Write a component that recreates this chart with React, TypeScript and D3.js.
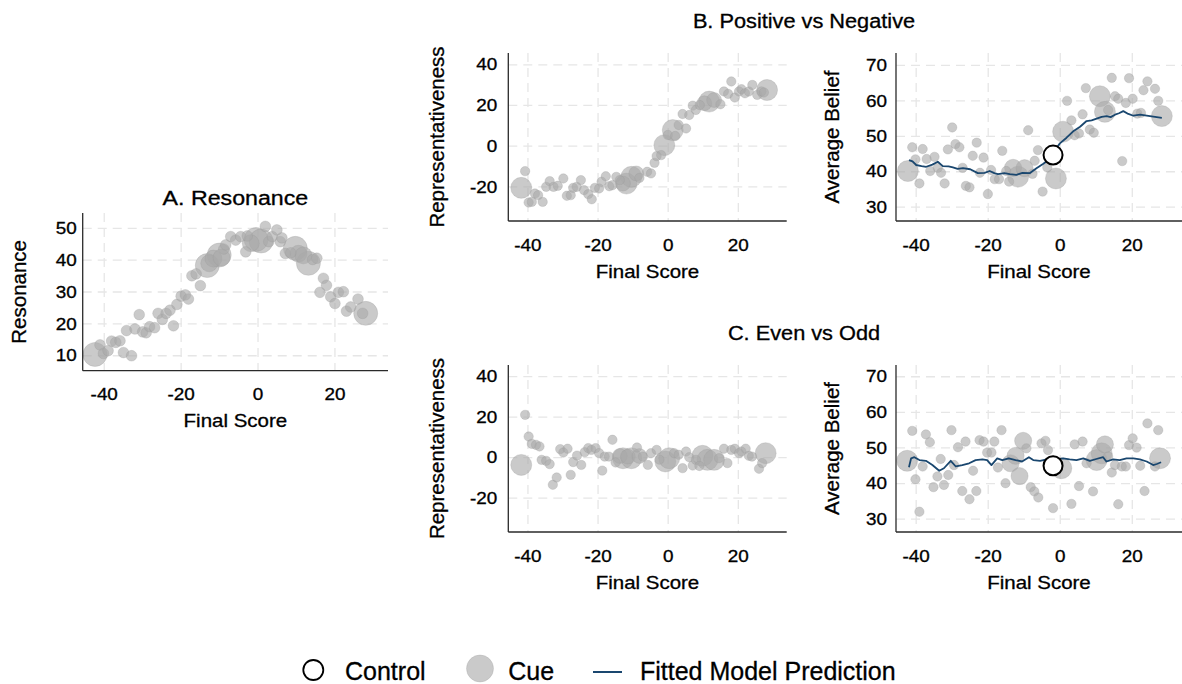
import React from 'react';
import * as d3 from 'd3';

// ---------- DATA ----------
const xTicks = [-40, -20, 0, 20];
const resonanceTicks = [10, 20, 30, 40, 50];
const repTicks = [-20, 0, 20, 40];
const beliefTicks = [30, 40, 50, 60, 70];

// [final score, value, weight]
const resonance: [number, number, number][] = [
  [-42.4, 10.4, 30], [-41.1, 13.4, 6], [-40.2, 10.7, 6], [-39, 11.6, 6], [-38.1, 14.6, 6],
  [-37, 14.2, 6], [-35.9, 14.7, 6], [-35, 11, 6], [-34.2, 17.9, 6], [-32.9, 10, 6],
  [-32, 18.4, 6], [-30.9, 22.9, 6], [-30, 17.5, 6], [-29.1, 17.2, 6], [-28.2, 19.1, 6],
  [-26.9, 18.8, 6], [-26, 23.3, 6], [-24.9, 21.4, 6], [-23.9, 23.3, 6], [-22.9, 24.3, 6],
  [-22, 19.4, 6], [-21.1, 26.1, 6], [-20, 28.7, 6], [-18.9, 29.1, 6], [-18.1, 27.8, 6],
  [-17.2, 35.1, 6], [-16.1, 35.7, 6], [-15, 32, 6], [-13.2, 38.3, 30], [-12.7, 39, 15],
  [-11.6, 40.5, 15], [-10.1, 41.6, 30], [-9.5, 40.8, 15], [-8.9, 43.5, 6], [-8.4, 44.8, 6],
  [-7.1, 47.4, 6], [-5.8, 46.3, 6], [-4.5, 47.4, 6], [-3.2, 42.6, 6], [-2.8, 47.6, 6],
  [-1.9, 45.3, 15], [-0.5, 46.5, 30], [0.8, 46, 30], [1.9, 50.6, 6], [2.8, 45.8, 6],
  [3.7, 47.4, 6], [4.9, 49.5, 6], [5.8, 45.8, 6], [6.2, 47, 6], [7.1, 42.1, 6],
  [8.5, 42.3, 6], [9.7, 43.7, 30], [10.5, 42, 15], [11.8, 41.5, 15], [13.1, 39, 30],
  [14.2, 40.2, 6], [15.3, 40.6, 6], [16.1, 29.9, 6], [17, 34.3, 6], [17.8, 32.1, 6],
  [18.9, 28.5, 6], [20, 26.4, 6], [20.9, 29.9, 6], [22.2, 30.1, 6], [23, 24, 6],
  [24.1, 25.3, 6], [26, 27.8, 6], [27.2, 23.3, 6], [28, 23.3, 30],
];

const posNegRep: [number, number, number][] = [
  [-41.9, -20.5, 30], [-40.8, -12.3, 6], [-39.8, -27.7, 6], [-38.9, -27.4, 6], [-38, -23.3, 6],
  [-37.1, -24.1, 6], [-35.8, -27.4, 6], [-34.8, -20, 6], [-33.8, -17.2, 6], [-32.7, -20, 6],
  [-31.5, -19.5, 6], [-29.9, -15.9, 6], [-28.9, -24.4, 6], [-27.8, -24.1, 6], [-27.1, -20.5, 6],
  [-26.1, -20, 6], [-24.9, -16.7, 6], [-24, -21.6, 6], [-22.8, -23.6, 6], [-21.8, -26.1, 6],
  [-20.9, -20.5, 6], [-19.7, -20.8, 6], [-19, -17.5, 6], [-17.8, -14.8, 6], [-16.8, -19.7, 6],
  [-15.9, -19.2, 6], [-14.8, -15.1, 6], [-13.8, -16.7, 6], [-12.9, -18.4, 15], [-11.9, -18.4, 30],
  [-10.5, -15.1, 30], [-9.1, -13.4, 15], [-8.2, -15.6, 6], [-6, -12.6, 6], [-4.9, -13.4, 6],
  [-3.9, -8.2, 6], [-3.3, -4.9, 6], [-2, -4.4, 6], [-1.1, 0.5, 30], [-0.1, 5.5, 6],
  [1.3, 7.9, 30], [2, 5, 6], [3, 10.4, 6], [4.1, 15.8, 6], [5.1, 8.7, 6],
  [6, 15.3, 6], [7, 19.9, 6], [7.9, 17.8, 6], [9, 20.2, 6], [10.3, 21.1, 15],
  [11.7, 21.9, 30], [13.1, 22.7, 15], [14.9, 20.6, 6], [15.9, 26.9, 6], [17.1, 25.7, 6],
  [18, 31.8, 6], [19, 23.9, 6], [20.2, 26.9, 6], [20.9, 28, 6], [21.9, 26, 6],
  [23, 26.9, 6], [24, 30.1, 6], [25.4, 25.2, 6], [26.6, 26.9, 6], [27.3, 26.4, 6],
  [28.2, 27.6, 30],
];

const posNegBelief: [number, number, number][] = [
  [-42.3, 40.2, 30], [-41.1, 46.9, 6], [-40.2, 43.5, 6], [-39.1, 36.7, 6], [-38.2, 46.4, 6],
  [-37.1, 43.6, 6], [-36.1, 40.2, 6], [-34.9, 44.2, 6], [-34, 41.1, 6], [-33.1, 39.7, 6],
  [-32.1, 36.7, 6], [-31.2, 46.3, 6], [-30, 52.5, 6], [-29.1, 47.8, 6], [-28, 46.9, 6],
  [-27.1, 41.1, 6], [-26.2, 36, 6], [-25.2, 35.6, 6], [-24.3, 44.5, 6], [-23.2, 48.2, 6],
  [-22.3, 39.7, 6], [-21.3, 44, 6], [-20.1, 33.7, 6], [-19.2, 40.5, 6], [-18.2, 37.9, 6],
  [-17, 37.9, 6], [-16.1, 45.9, 6], [-15, 40.2, 6], [-14.2, 37.2, 6], [-13.1, 41.1, 20],
  [-11.7, 38.6, 30], [-9.9, 41, 20], [-8.9, 51.7, 6], [-7.7, 39.4, 6], [-7.1, 43.1, 6],
  [-6.2, 46.1, 6], [-4.9, 34.4, 6], [-3.6, 41.2, 6], [-1.2, 38.1, 30], [0.8, 51.3, 30],
  [1.9, 60, 6], [3.1, 54.5, 6], [4, 50.3, 6], [5.2, 50.8, 6], [6.2, 56.2, 6],
  [7.1, 63.6, 6], [8.2, 51.9, 6], [9.3, 51, 6], [11, 61.3, 30], [12.4, 56.9, 30],
  [13.3, 57.4, 6], [14.3, 66.5, 6], [15.2, 61.3, 6], [16.1, 60.6, 6], [17.2, 43, 6],
  [18.2, 59.4, 6], [19.1, 66.4, 6], [20.1, 60.6, 6], [21.4, 56.4, 6], [22.4, 56.6, 6],
  [23.1, 63, 6], [24.2, 65.5, 6], [26.3, 63.4, 6], [27.2, 60, 6], [28.2, 55.7, 30],
];

const posNegFit: [number, number][] = [
  [-42, 43.3], [-41, 42.9], [-40, 41.9], [-38.5, 41.6], [-37.2, 41.4], [-35.5, 42],
  [-34, 42.8], [-32.6, 41.6], [-31, 41.5], [-29.8, 41.2], [-28.5, 40.8], [-27, 41],
  [-25, 40.7], [-22.9, 39.6], [-21, 39.7], [-19.6, 40.2], [-18.3, 39.6], [-17.3, 39.3],
  [-15.5, 39.6], [-14, 39.3], [-12.2, 39.1], [-10.5, 39.7], [-8.5, 39.6], [-6.6, 41],
  [-4.8, 42.2], [-2.9, 43.6], [-1.5, 46], [-0.1, 48], [1.75, 49.6], [3.6, 51.4],
  [5.5, 52.7], [7.3, 54.3], [8.7, 54.5], [10.1, 55], [11.5, 55.5], [12.9, 55.7],
  [14, 55.4], [15.2, 56.1], [16.3, 56.5], [17.5, 57.1], [18.9, 56.3], [20.3, 55.8],
  [22.2, 56.1], [24.9, 55.7], [28.2, 55.2],
];
const posNegControl: [number, number] = [-2, 44.7];

const evenOddRep: [number, number, number][] = [
  [-41.9, -3.6, 30], [-40.8, 21.1, 6], [-39.8, 10.4, 6], [-38.9, 6.8, 6], [-37.7, 6.3, 6],
  [-36.7, 5.5, 6], [-36.1, -1.1, 6], [-34.8, -1.6, 6], [-33.8, -3.2, 6], [-32.9, -13.4, 6],
  [-31.8, -9.8, 6], [-30.8, 4.2, 6], [-29.9, 2.5, 6], [-28.7, 4.4, 6], [-27.8, -8.5, 6],
  [-27.1, -2.2, 6], [-26, 1, 6], [-24.8, -3.6, 6], [-23.8, 2.7, 6], [-22.8, 4.7, 6],
  [-21.9, 3.8, 6], [-20.7, 4.7, 6], [-19.7, 2.2, 6], [-18.8, -6.4, 6], [-18.1, 0.5, 6],
  [-16.9, 0.5, 6], [-15.9, 8.8, 6], [-15, -2.4, 6], [-13.8, 0.8, 15], [-12.9, -0.3, 30],
  [-11.5, 0.5, 15], [-10.5, -0.3, 30], [-8.9, 5, 6], [-8.2, 0.8, 15], [-7.2, 0.5, 6],
  [-5.8, -3.6, 6], [-4.9, 2.2, 6], [-3.3, 3.8, 6], [-2.5, -1, 6], [-0.8, -1.9, 30],
  [0.3, -0.3, 30], [1.7, 2.2, 6], [3, 1.4, 6], [4.1, -5.2, 6], [5.1, 3, 6],
  [6, 0.2, 6], [7, -3.9, 6], [7.9, -1.1, 6], [8.9, -4.1, 6], [9.8, 0.9, 30],
  [11.2, -1.1, 30], [13.1, -1.1, 30], [14.5, -0.3, 6], [15.9, 4.4, 6], [16.9, -2.7, 6],
  [18, 3.8, 6], [19, 4.4, 6], [20.2, 2.2, 6], [20.9, 3, 6], [22.1, 4.4, 6],
  [23, 0.9, 6], [23.9, 0.5, 6], [25.9, -5.5, 6], [26.8, -2.7, 6], [27.8, 2.2, 30],
];

const evenOddBelief: [number, number, number][] = [
  [-42.5, 46.4, 30], [-41.1, 54.8, 6], [-40.2, 41.2, 6], [-39.1, 32.1, 6], [-38.2, 44.8, 6],
  [-37.3, 53.8, 6], [-36.2, 51.6, 6], [-35.2, 39, 6], [-34.1, 42, 6], [-33.2, 46.9, 6],
  [-32.3, 39.6, 6], [-31.1, 42.4, 6], [-30.2, 55, 6], [-29.5, 45.2, 6], [-28.4, 50.2, 6],
  [-27.2, 37.9, 6], [-26.3, 51.8, 6], [-25.2, 35.6, 6], [-24.2, 43.6, 6], [-23.3, 37.9, 6],
  [-22.4, 52.2, 6], [-21.3, 51.8, 6], [-20.3, 48.7, 6], [-19.1, 48.7, 6], [-18.3, 51.8, 6],
  [-17.3, 44.5, 6], [-16.3, 55, 6], [-15.2, 40.1, 6], [-13.8, 45.7, 20], [-12.4, 47.8, 20],
  [-11.3, 42.1, 20], [-10.3, 52, 20], [-9.4, 49.9, 6], [-8.2, 39, 6], [-7.2, 37.8, 6],
  [-6.1, 36.1, 6], [-5.2, 51.3, 6], [-4.1, 52, 6], [-3.4, 49.4, 6], [-2, 33.1, 6],
  [0.3, 44.3, 30], [3.1, 34.3, 6], [4, 51, 6], [5.2, 39.3, 6], [6.2, 51.8, 6],
  [7.3, 45.7, 6], [9.1, 37.8, 6], [10.1, 46.6, 30], [11.5, 48.5, 30], [12.4, 51, 20],
  [13.3, 47.6, 6], [14.3, 43.1, 6], [15.2, 45.2, 6], [16.1, 34.2, 6], [17.1, 44.8, 6],
  [18.2, 44.8, 6], [19.1, 50.8, 6], [20.1, 52.7, 6], [21.2, 50.1, 6], [22.2, 45, 6],
  [23.4, 37.9, 6], [24.2, 56.9, 6], [26.3, 44.8, 6], [27.2, 55, 6], [27.7, 47.1, 30],
];

const evenOddFit: [number, number][] = [
  [-42, 44.6], [-41.4, 47.1], [-40.5, 47.4], [-39.1, 46.6], [-37.3, 46.4], [-35.5, 45.2],
  [-33.6, 43.6], [-32.3, 44.3], [-30.4, 46.4], [-29, 44.8], [-27.2, 45.2], [-25.3, 45.7],
  [-23.5, 46.6], [-21.6, 46.8], [-20.3, 46.6], [-19.1, 45.2], [-17.5, 47.1], [-16.1, 46.6],
  [-14.3, 47.1], [-12.4, 46.6], [-10.6, 46.2], [-8.7, 47.4], [-7.5, 46.6], [-5.6, 46.4],
  [-3.8, 46.8], [-2.8, 46.6], [0.8, 47.1], [2.6, 46.8], [4.5, 46.6], [6.4, 47.1],
  [8.2, 46.4], [10, 46.9], [11.9, 47.4], [12.8, 46.2], [14.7, 46.8], [16.5, 46.6],
  [18.4, 47.1], [20.3, 47.1], [22.1, 46.8], [24, 46.2], [25.8, 45.2], [26.8, 45.5],
  [28, 46],
];
const evenOddControl: [number, number] = [-2, 45];

const legendLabels = ['Control', 'Cue', 'Fitted Model Prediction'];

// ---------- STYLE ----------
const FONT = '"Liberation Sans", Arial, Helvetica, sans-serif';
const X_DOMAIN: [number, number] = [-45.6, 33.8];
const CUE_FILL = '#a9a9a9';
const CUE_OPACITY = 0.62;
const FIT_COLOR = '#1a476f';
const GRID = '#e6e6e6';
const AXIS = '#2a2a2a';

type Box = { x0: number; x1: number; y0: number; y1: number };

function Txt({ x, y, size, sx = 1, anchor = 'middle', rot = 0, children }: any) {
  return (
    <text
      transform={`translate(${x},${y}) rotate(${rot}) scale(${sx},1)`}
      fontSize={size}
      textAnchor={anchor}
      fontFamily={FONT}
      fill="#000"
      stroke="#000"
      strokeWidth={0.3}
    >
      {children}
    </text>
  );
}

function Panel({
  box, yDomain, yTicks, yLabel, yLabelX, yPad, data, fit, control, rMax,
}: {
  box: Box; yDomain: [number, number]; yTicks: number[]; yLabel: string; yLabelX: number;
  yPad: number; data: [number, number, number][]; fit?: [number, number][];
  control?: [number, number]; rMax: number;
}) {
  const x = d3.scaleLinear().domain(X_DOMAIN).range([box.x0, box.x1]);
  const y = d3.scaleLinear().domain(yDomain).range([box.y1, box.y0]);
  const r = d3.scaleSqrt().domain([0, 30]).range([0, rMax]);
  const line = d3.line<[number, number]>().x((d) => x(d[0])).y((d) => y(d[1]));
  const sorted = [...data].sort((a, b) => b[2] - a[2]);
  return (
    <g>
      {yTicks.map((t) => (
        <line key={'gy' + t} x1={box.x0} x2={box.x1} y1={y(t)} y2={y(t)}
          stroke={GRID} strokeWidth={1.3} strokeDasharray="9 6" />
      ))}
      {xTicks.map((t) => (
        <line key={'gx' + t} x1={x(t)} x2={x(t)} y1={box.y0} y2={box.y1}
          stroke={GRID} strokeWidth={1.3} strokeDasharray="9 6" />
      ))}
      {sorted.map((d, i) => (
        <circle key={i} cx={x(d[0])} cy={y(d[1])} r={r(d[2])}
          fill={CUE_FILL} fillOpacity={CUE_OPACITY}
          stroke="#9a9a9a" strokeOpacity={0.35} strokeWidth={0.8} />
      ))}
      {fit && (
        <path d={line(fit) || ''} fill="none" stroke={FIT_COLOR} strokeWidth={1.8}
          strokeLinejoin="round" />
      )}
      {control && (
        <circle cx={x(control[0])} cy={y(control[1])} r={9.5} fill="#fff"
          stroke="#000" strokeWidth={2} />
      )}
      <line x1={box.x0} x2={box.x0} y1={box.y0} y2={box.y1} stroke={AXIS} strokeWidth={1.3} />
      <line x1={box.x0} x2={box.x1} y1={box.y1} y2={box.y1} stroke={AXIS} strokeWidth={1.3} />
      {yTicks.map((t) => (
        <Txt key={'ty' + t} x={box.x0 - yPad} y={y(t) + 5.7} size={16} sx={1.18} anchor="end">
          {String(t)}
        </Txt>
      ))}
      {xTicks.map((t) => (
        <Txt key={'tx' + t} x={x(t)} y={box.y1 + 29.5} size={16} sx={1.18}>
          {String(t)}
        </Txt>
      ))}
      <Txt x={(box.x0 + box.x1) / 2} y={box.y1 + 56.5} size={17.5} sx={1.17}>Final Score</Txt>
      <Txt x={yLabelX} y={(box.y0 + box.y1) / 2} size={20.5} rot={-90}>{yLabel}</Txt>
    </g>
  );
}

export default function App() {
  return (
    <svg width={1182} height={684} viewBox="0 0 1182 684"
      style={{ position: 'absolute', left: 0, top: 0, background: '#fff' }}>
      <rect width={1182} height={684} fill="#fff" />
      {/* Panel A */}
      <Txt x={235.4} y={205} size={19.5} sx={1.19}>A. Resonance</Txt>
      <Panel box={{ x0: 82.7, x1: 388, y0: 213, y1: 370.7 }} yDomain={[5.3, 54.8]}
        yTicks={resonanceTicks} yLabel="Resonance" yLabelX={26} yPad={6}
        data={resonance} rMax={12} />
      {/* Panel B */}
      <Txt x={804} y={27.7} size={19.5} sx={1.115}>B. Positive vs Negative</Txt>
      <Panel box={{ x0: 508.3, x1: 786.7, y0: 53, y1: 221 }} yDomain={[-36.8, 45.8]}
        yTicks={repTicks} yLabel="Representativeness" yLabelX={444} yPad={11}
        data={posNegRep} rMax={10.5} />
      <Panel box={{ x0: 896, x1: 1182, y0: 53, y1: 221 }} yDomain={[26.1, 73.5]}
        yTicks={beliefTicks} yLabel="Average Belief" yLabelX={839} yPad={9}
        data={posNegBelief} fit={posNegFit} control={posNegControl} rMax={10.5} />
      {/* Panel C */}
      <Txt x={804} y={340} size={19.5} sx={1.115}>C. Even vs Odd</Txt>
      <Panel box={{ x0: 508.3, x1: 786.7, y0: 365, y1: 532 }} yDomain={[-36.7, 45.7]}
        yTicks={repTicks} yLabel="Representativeness" yLabelX={444} yPad={11}
        data={evenOddRep} rMax={10.5} />
      <Panel box={{ x0: 896, x1: 1182, y0: 365, y1: 532 }} yDomain={[26.4, 73.3]}
        yTicks={beliefTicks} yLabel="Average Belief" yLabelX={839} yPad={9}
        data={evenOddBelief} fit={evenOddFit} control={evenOddControl} rMax={10.5} />
      {/* Legend */}
      <circle cx={313.3} cy={670} r={10} fill="#fff" stroke="#000" strokeWidth={1.8} />
      <Txt x={345} y={680} size={25} anchor="start">{legendLabels[0]}</Txt>
      <circle cx={480} cy={668.5} r={13.5} fill={CUE_FILL} fillOpacity={CUE_OPACITY}
        stroke="#9a9a9a" strokeOpacity={0.35} strokeWidth={0.8} />
      <Txt x={508.3} y={680} size={25} anchor="start">{legendLabels[1]}</Txt>
      <line x1={593} x2={622} y1={672} y2={672} stroke={FIT_COLOR} strokeWidth={2} />
      <Txt x={640} y={680} size={25} anchor="start">{legendLabels[2]}</Txt>
    </svg>
  );
}
